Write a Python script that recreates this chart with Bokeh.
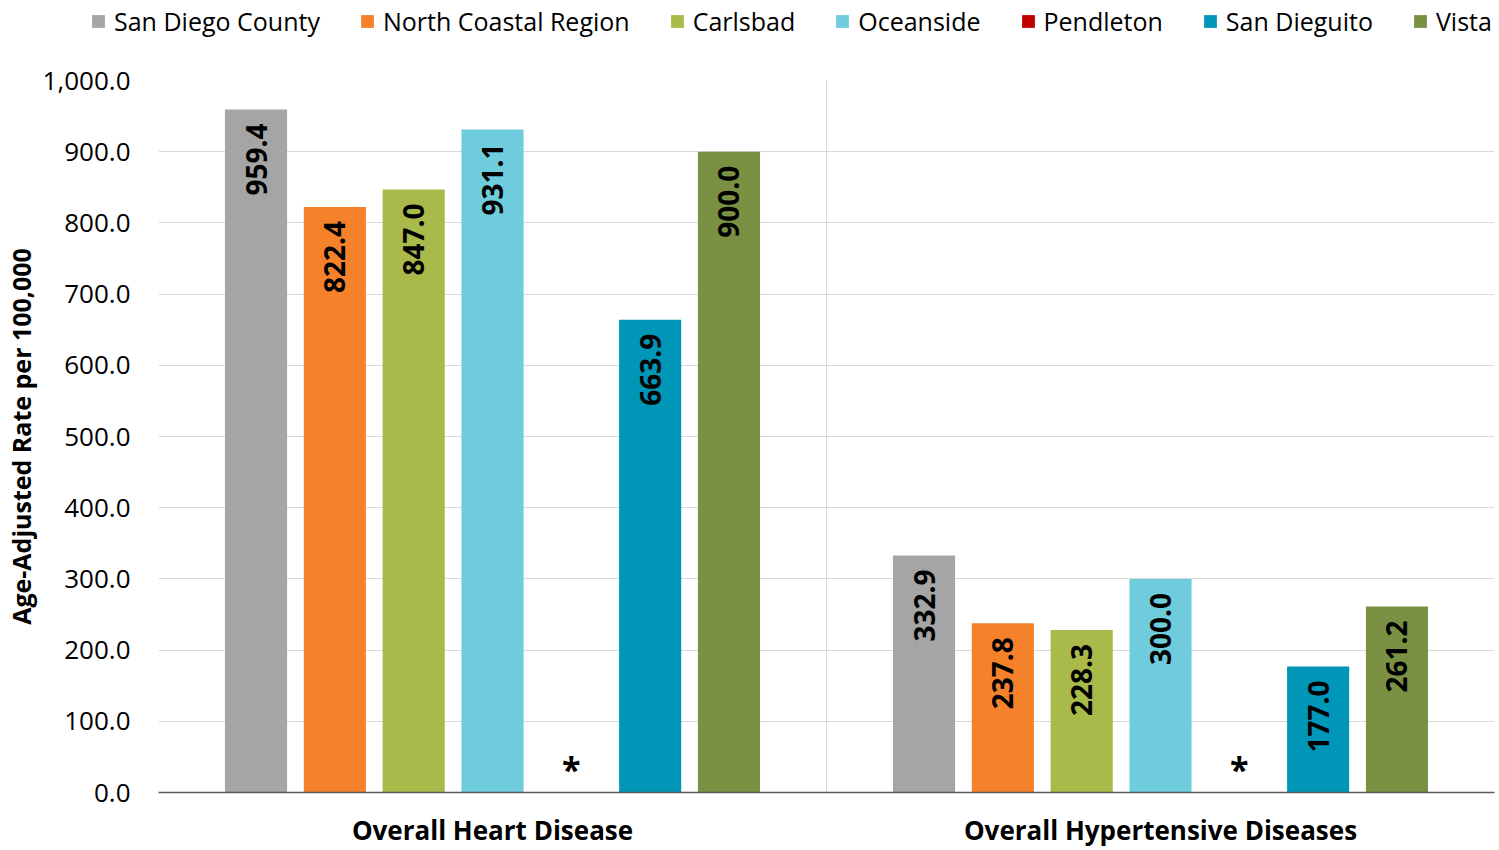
import numpy as np
from bokeh.plotting import figure
from bokeh.models import (Range1d, FixedTicker, NumeralTickFormatter, Legend, LegendItem,
                          ColumnDataSource)
from bokeh.core.properties import value
from bokeh.embed import file_html
from bokeh.resources import INLINE

categories = ["Overall Heart Disease", "Overall Hypertensive Diseases"]
series = ["San Diego County", "North Coastal Region", "Carlsbad", "Oceanside",
          "Pendleton", "San Dieguito", "Vista"]
colors = ["#A5A5A5", "#F5822A", "#A9BA4A", "#6FCCDD", "#C00000", "#0096B7", "#7A9143"]
values = {
    "San Diego County": [959.4, 332.9],
    "North Coastal Region": [822.4, 237.8],
    "Carlsbad": [847.0, 228.3],
    "Oceanside": [931.1, 300.0],
    "Pendleton": [None, None],
    "San Dieguito": [663.9, 177.0],
    "Vista": [900.0, 261.2],
}
y_ticks = [0, 100, 200, 300, 400, 500, 600, 700, 800, 900, 1000]

FONT = "Open Sans"
step = 0.118
bar_w = 0.093

# ---- legend strip ----
lg = figure(width=1497, height=45, output_backend="svg", toolbar_location=None,
            x_axis_type=None, y_axis_type=None, x_range=Range1d(0, 1), y_range=Range1d(0, 1),
            min_border=0, min_border_left=0, min_border_right=0, min_border_top=0,
            min_border_bottom=0)
lg.outline_line_color = None
lg.xgrid.visible = False
lg.ygrid.visible = False

# ---- main chart ----
p = figure(width=1497, height=805, output_backend="svg", toolbar_location=None,
           x_range=Range1d(0, 2), y_range=Range1d(0, 1000),
           min_border_left=158, min_border_right=3, min_border_top=35, min_border_bottom=57)
p.outline_line_color = None
p.background_fill_color = "white"

legend_items = []
for i, s in enumerate(series):
    xs = [c + 0.5 + (i - 3) * step for c in range(len(categories))]
    tops = [np.nan if v is None else v for v in values[s]]
    src = ColumnDataSource(dict(x=xs, top=tops))
    p.vbar(x="x", top="top", width=bar_w, source=src, fill_color=colors[i], line_color=None)
    dummy = lg.vbar(x=[-5.0], top=[np.nan], width=0.1, fill_color=colors[i], line_color=None)
    legend_items.append(LegendItem(label=s, renderers=[dummy]))
    lx = [x for x, v in zip(xs, values[s]) if v is not None]
    ly = [v for v in values[s] if v is not None]
    lt = [f"{v:.1f}" for v in values[s] if v is not None]
    if lx:
        p.text(x=lx, y=ly, text=lt, angle=np.pi / 2, text_align="right",
               text_baseline="middle", y_offset=14, text_font=value(FONT),
               text_font_style="bold", text_font_size="28px", text_color="black")
    mx = [x for x, v in zip(xs, values[s]) if v is None]
    if mx:
        p.text(x=mx, y=[0] * len(mx), text=["*"] * len(mx), text_align="center",
               text_baseline="middle", y_offset=-24, text_font=value(FONT),
               text_font_style="bold", text_font_size="34px", text_color="black")

legend = Legend(items=legend_items, orientation="horizontal", location=(90, 7),
                glyph_width=16, glyph_height=16, label_standoff=8, spacing=39,
                padding=0, margin=0, border_line_color=None, background_fill_alpha=0,
                label_text_font=FONT, label_text_font_size="25px", label_text_color="black")
lg.add_layout(legend, "center")

# y axis
p.yaxis.ticker = FixedTicker(ticks=y_ticks)
p.yaxis.formatter = NumeralTickFormatter(format="0,0.0")
p.yaxis.axis_line_color = None
p.yaxis.major_tick_line_color = None
p.yaxis.minor_tick_line_color = None
p.yaxis.major_label_standoff = 22
p.yaxis.major_label_text_font = FONT
p.yaxis.major_label_text_font_size = "26px"
p.yaxis.major_label_text_color = "black"
p.yaxis.axis_label = "Age-Adjusted Rate per 100,000"
p.yaxis.axis_label_text_font = FONT
p.yaxis.axis_label_text_font_style = "bold"
p.yaxis.axis_label_text_font_size = "25px"
p.yaxis.axis_label_text_color = "black"
p.yaxis.axis_label_standoff = 2

# x axis
p.xaxis.ticker = FixedTicker(ticks=[0.5, 1.5])
p.xaxis.major_label_overrides = {0.5: categories[0], 1.5: categories[1]}
p.xaxis.axis_line_color = "#595959"
p.xaxis.axis_line_width = 1.5
p.xaxis.major_tick_line_color = None
p.xaxis.minor_tick_line_color = None
p.xaxis.major_label_standoff = 13
p.xaxis.major_label_text_font = FONT
p.xaxis.major_label_text_font_style = "bold"
p.xaxis.major_label_text_font_size = "26px"
p.xaxis.major_label_text_color = "black"

p.xgrid.ticker = FixedTicker(ticks=[0, 1, 2])
p.xgrid.grid_line_color = "#D9D9D9"
p.ygrid.ticker = FixedTicker(ticks=y_ticks)
p.ygrid.grid_line_color = "#D9D9D9"

open("out.html", "w").write(file_html([lg, p], INLINE))
